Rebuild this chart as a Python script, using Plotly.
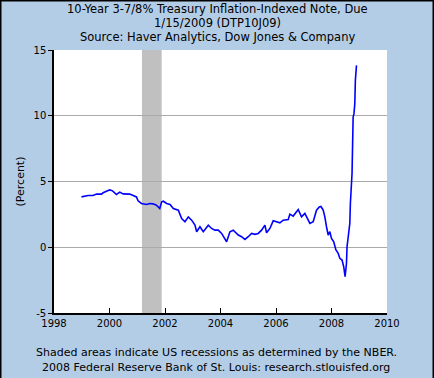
import plotly.graph_objects as go

# Data: decimal year, percent yield
years = [1998.99, 1999.10, 1999.23, 1999.41, 1999.53, 1999.71, 1999.77, 1999.93, 2000.01, 2000.11,
         2000.25, 2000.37, 2000.49, 2000.73, 2000.85, 2000.97, 2001.03, 2001.15, 2001.33, 2001.45,
         2001.57, 2001.69, 2001.81, 2001.88, 2001.94, 2002.06, 2002.18, 2002.30, 2002.48, 2002.60,
         2002.72, 2002.84, 2002.96, 2003.08, 2003.14, 2003.26, 2003.38, 2003.56, 2003.68, 2003.80,
         2003.92, 2004.04, 2004.22, 2004.34, 2004.46, 2004.64, 2004.76, 2004.88, 2005.00, 2005.12,
         2005.24, 2005.36, 2005.48, 2005.60, 2005.66, 2005.78, 2005.90, 2006.02, 2006.14, 2006.26,
         2006.44, 2006.50, 2006.62, 2006.80, 2006.92, 2007.04, 2007.22, 2007.34, 2007.46, 2007.56,
         2007.62, 2007.70, 2007.76, 2007.82, 2007.88, 2007.94, 2008.00, 2008.08, 2008.16, 2008.24,
         2008.30, 2008.38, 2008.44, 2008.49, 2008.54, 2008.56, 2008.62, 2008.66, 2008.68, 2008.72,
         2008.74, 2008.78, 2008.81, 2008.84, 2008.86, 2008.90]
values = [3.83, 3.88, 3.94, 3.94, 4.04, 4.04, 4.14, 4.29, 4.36, 4.29,
          4.01, 4.19, 4.06, 4.04, 3.91, 3.83, 3.53, 3.33, 3.25, 3.33,
          3.30, 3.20, 2.95, 3.45, 3.50, 3.33, 3.25, 2.95, 2.82, 2.19,
          1.94, 2.31, 2.06, 1.68, 1.18, 1.56, 1.18, 1.68, 1.43, 1.30,
          1.30, 1.05, 0.42, 1.18, 1.30, 0.93, 0.80, 0.60, 0.80, 1.05,
          0.98, 1.05, 1.30, 1.68, 1.10, 1.43, 2.01, 1.94, 1.86, 2.06,
          2.11, 2.52, 2.37, 2.87, 2.31, 2.57, 1.81, 1.94, 2.82, 3.07,
          3.10, 2.82, 2.31, 1.56, 0.93, 1.18, 0.67, 0.42, -0.21, -0.46,
          -0.84, -0.97, -1.48, -2.24, -1.22, 0.04, 1.43, 1.81, 3.33, 4.85,
          5.61, 9.90, 10.16, 10.92, 12.69, 13.83]

recession_start = [2001.17]
recession_end = [2001.88]

x_ticks = [1998, 2000, 2002, 2004, 2006, 2008, 2010]
y_ticks = [-5, 0, 5, 10, 15]
y_tick_labels = ["-5", "0", "5", "10", "15"]

title_lines = ["10-Year 3-7/8% Treasury Inflation-Indexed Note, Due",
               "1/15/2009 (DTP10J09)",
               "Source: Haver Analytics, Dow Jones & Company"]
footer_lines = ["Shaded areas indicate US recessions as determined by the NBER.",
                "2008 Federal Reserve Bank of St. Louis: research.stlouisfed.org"]

W, H = 434, 378
ML, MR, MT, MB = 54, 47, 50, 65
PW, PH = W - ML - MR, H - MT - MB
BG = "#B4CDE6"
FONT = "DejaVu Sans"

fig = go.Figure()
fig.add_trace(go.Scatter(x=years, y=values, mode="lines",
                         line=dict(color="#0000FF", width=1.6), showlegend=False))

shapes = []
for s, e in zip(recession_start, recession_end):
    shapes.append(dict(type="rect", xref="x", yref="paper", x0=s, x1=e, y0=0, y1=1,
                       fillcolor="#C0C0C0", line=dict(width=0), layer="below"))
# outer border
shapes.append(dict(type="rect", xref="paper", yref="paper",
                   x0=(0.75 - ML) / PW, x1=(W - 0.75 - ML) / PW,
                   y0=(MB - H + 0.75) / PH, y1=(H - 0.75 - MB) / PH,
                   line=dict(color="#000000", width=1.5)))

annotations = []
title_y = [9, 23, 37]
for t, py in zip(title_lines, title_y):
    annotations.append(dict(text=t, xref="paper", yref="paper",
                            x=(217 - ML) / PW, y=(H - MB - py) / PH,
                            xanchor="center", yanchor="middle", showarrow=False,
                            font=dict(family=FONT, size=11.5, color="#000000")))
footer_y = [352, 367]
for t, py in zip(footer_lines, footer_y):
    annotations.append(dict(text=t, xref="paper", yref="paper",
                            x=(216 - ML) / PW, y=(H - MB - py) / PH,
                            xanchor="center", yanchor="middle", showarrow=False,
                            font=dict(family=FONT, size=11, color="#000000")))
annotations.append(dict(text="(Percent)", xref="paper", yref="paper",
                        x=(20 - ML) / PW, y=0.5, textangle=-90,
                        xanchor="center", yanchor="middle", showarrow=False,
                        font=dict(family=FONT, size=11, color="#000000")))

fig.update_layout(
    width=W, height=H,
    margin=dict(l=ML, r=MR, t=MT, b=MB, pad=0),
    paper_bgcolor=BG, plot_bgcolor="#FFFFFF",
    font=dict(family=FONT, size=10, color="#000000"),
    shapes=shapes, annotations=annotations,
    xaxis=dict(range=[1998, 2010], tickvals=x_ticks, ticks="inside", ticklen=5,
               tickcolor="#000000", showgrid=False, zeroline=False,
               showline=True, linecolor="#000000", linewidth=1.5,
               tickfont=dict(family=FONT, size=10)),
    yaxis=dict(range=[-5, 15], tickvals=y_ticks, ticktext=y_tick_labels,
               ticks="outside", ticklen=4, tickcolor="#000000",
               showgrid=True, gridcolor="#AAAAAA", gridwidth=1, zeroline=False,
               showline=True, linecolor="#000000", linewidth=1.5,
               tickfont=dict(family=FONT, size=10)),
)

fig.write_html("out.html", config={"displayModeBar": False},
               post_script="document.body.style.margin='0';document.body.style.padding='0';document.body.style.overflow='hidden';")
